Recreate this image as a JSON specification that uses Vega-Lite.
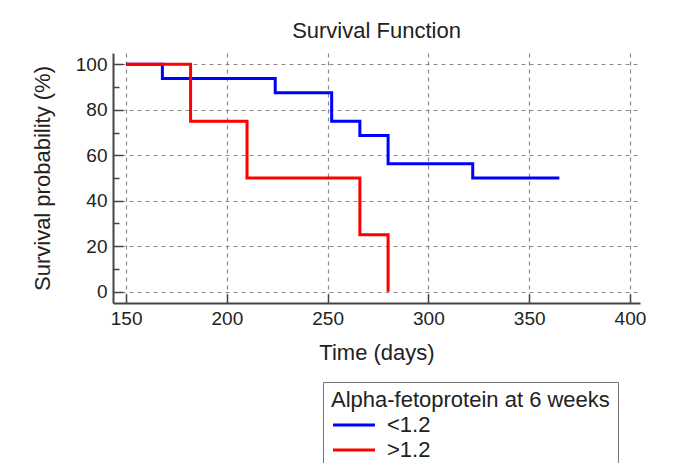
{
  "$schema": "https://vega.github.io/schema/vega-lite/v6.json",
  "width": 527,
  "height": 250,
  "autosize": {"type": "none"},
  "padding": {"left": 113, "top": 53, "right": 33, "bottom": 160},
  "background": "white",
  "config": {
    "view": {"stroke": null},
    "font": "Liberation Sans"
  },
  "title": {"text": "Survival Function", "fontSize": 22, "font": "Liberation Sans", "fontWeight": "normal", "color": "#222", "offset": 10},
  "data": {
    "values": [
      {"group": "<1.2", "time": 150, "survival": 100},
      {"group": "<1.2", "time": 168, "survival": 93.75},
      {"group": "<1.2", "time": 224, "survival": 87.5},
      {"group": "<1.2", "time": 252, "survival": 75},
      {"group": "<1.2", "time": 266, "survival": 68.75},
      {"group": "<1.2", "time": 280, "survival": 56.25},
      {"group": "<1.2", "time": 322, "survival": 50},
      {"group": "<1.2", "time": 365, "survival": 50},
      {"group": ">1.2", "time": 150, "survival": 100},
      {"group": ">1.2", "time": 182, "survival": 75},
      {"group": ">1.2", "time": 210, "survival": 50},
      {"group": ">1.2", "time": 266, "survival": 25},
      {"group": ">1.2", "time": 280, "survival": 0}
    ]
  },
  "mark": {"type": "line", "interpolate": "step-after", "strokeWidth": 3, "clip": false},
  "encoding": {
    "x": {
      "field": "time", "type": "quantitative",
      "scale": {"domain": [143.5, 405], "nice": false, "zero": false},
      "axis": {
        "title": "Time (days)", "values": [150, 200, 250, 300, 350, 400],
        "tickSize": -9, "tickColor": "#444", "tickWidth": 1.5,
        "domainColor": "#444", "domainWidth": 2,
        "labelFontSize": 19, "labelColor": "#222", "labelPadding": 15, "labelFont": "Liberation Sans",
        "titleFontSize": 22, "titleFontWeight": "normal", "titleColor": "#222", "titlePadding": 14, "titleFont": "Liberation Sans",
        "grid": true, "gridDash": [4, 4], "gridColor": "#8a8a8a", "gridWidth": 1.2
      }
    },
    "y": {
      "field": "survival", "type": "quantitative",
      "scale": {"domain": [-5, 105], "nice": false},
      "axis": {
        "title": "Survival probability (%)", "values": [0, 10, 20, 30, 40, 50, 60, 70, 80, 90, 100],
        "labelExpr": "datum.value % 20 == 0 ? datum.label : ''",
        "tickSize": {"condition": {"test": "datum.value % 20 == 0", "value": -10}, "value": -6},
        "tickColor": "#444", "tickWidth": 1.5,
        "domainColor": "#444", "domainWidth": 2,
        "labelFontSize": 19, "labelColor": "#222", "labelPadding": 16, "labelFont": "Liberation Sans",
        "titleFontSize": 22, "titleFontWeight": "normal", "titleColor": "#222", "titlePadding": 21, "titleFont": "Liberation Sans",
        "grid": true, "gridDash": [4, 4], "gridColor": "#8a8a8a", "gridWidth": 1.2,
        "gridOpacity": {"condition": {"test": "datum.value % 20 == 0", "value": 1}, "value": 0}
      }
    },
    "color": {
      "field": "group", "type": "nominal",
      "scale": {"domain": ["<1.2", ">1.2"], "range": ["#0000ff", "#ff0000"]},
      "legend": {
        "orient": "none", "legendX": 210, "legendY": 329,
        "title": "Alpha-fetoprotein at 6 weeks", "titleLimit": 500,
        "titleFontSize": 22, "titleFont": "Liberation Sans", "titleFontWeight": "normal", "titleColor": "#222",
        "labelFontSize": 22, "labelFont": "Liberation Sans", "labelColor": "#222",
        "symbolType": "M-2,0H2", "symbolStrokeWidth": 3, "symbolSize": 441,
        "symbolOffset": 11,
        "fillColor": "white", "strokeColor": "#777", "padding": 8,
        "rowPadding": 2, "labelOffset": 21, "titlePadding": 1
      }
    }
  }
}
